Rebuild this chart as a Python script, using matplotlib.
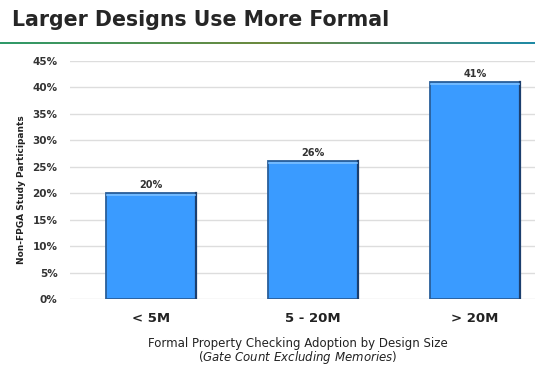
import numpy as np
import matplotlib
matplotlib.use("Agg")
import matplotlib.pyplot as plt
from matplotlib.colors import LinearSegmentedColormap
from matplotlib.ticker import MultipleLocator, FuncFormatter

categories = ["< 5M", "5 - 20M", "> 20M"]
adoption = [20, 26, 41]
bar_labels = ["20%", "26%", "41%"]

title = "Larger Designs Use More Formal"
ylabel = "Non-FPGA Study Participants"
xlabel1 = "Formal Property Checking Adoption by Design Size"

fig = plt.figure(figsize=(5.35, 3.73), dpi=100)
W, H = 535, 373

# title and gradient rule
fig.text(12 / W, 1 - 20 / H, title, fontsize=14.8, fontweight="heavy",
         color="#262626", va="center", ha="left", family="DejaVu Sans")
line_ax = fig.add_axes([0, 1 - 44 / H, 1, 2.5 / H])
cmap = LinearSegmentedColormap.from_list("rule", ["#2f9a6a", "#6e8a3e", "#1f8aa6"])
line_ax.imshow(np.linspace(0, 1, 256)[None, :], aspect="auto", cmap=cmap)
line_ax.axis("off")

# main axes: x from 70 to 535 px, y from 299 (0%) to 61 (45%)
ax = fig.add_axes([70 / W, 1 - 299 / H, (535 - 70) / W, (299 - 61) / H])
x = np.arange(len(categories))
bars = ax.bar(x, adoption, width=0.56, color="#3a9bff", edgecolor="#2a5f9a",
              linewidth=1.3, zorder=3)
# darker right side for a bevel look
for b in bars:
    ax.plot([b.get_x() + b.get_width(), b.get_x() + b.get_width()],
            [0, b.get_height()], color="#1c3f6e", lw=1.6, zorder=4)
    ax.plot([b.get_x() + 0.01, b.get_x() + b.get_width() - 0.01],
            [b.get_height() - 0.35] * 2, color="#7cc0ff", lw=1.2, zorder=4)

for xi, v, lab in zip(x, adoption, bar_labels):
    ax.text(xi, v + 0.6, lab, ha="center", va="bottom", fontsize=7,
            fontweight="bold", color="#333333")

ax.set_xlim(-0.5, 2.37)
ax.set_ylim(0, 45)
ax.yaxis.set_major_locator(MultipleLocator(5))
ax.yaxis.set_major_formatter(FuncFormatter(lambda v, p: f"{v:.0f}%"))
ax.grid(axis="y", color="#dddddd", lw=1, zorder=0)
for s in ax.spines.values():
    s.set_visible(False)
ax.tick_params(axis="y", length=0, labelsize=7.5, labelcolor="#333333", pad=9)
ax.tick_params(axis="x", length=0, labelsize=9.5, labelcolor="#222222", pad=9)
for t in ax.get_yticklabels():
    t.set_fontweight("bold")
ax.set_xticks(x)
ax.set_xticklabels(categories, fontweight="bold")
ax.set_ylabel(ylabel, fontsize=6.5, fontweight="bold", color="#222222")
ax.yaxis.set_label_coords(-0.095, 0.46)

cx = (70 + 535) / 2 / W
fig.text(cx - 5 / W, 1 - 343 / H, xlabel1, ha="center", va="center", fontsize=8.5,
         color="#222222")
fig.text(cx - 5 / W, 1 - 357 / H, r"($\it{Gate\ Count\ Excluding\ Memories}$)",
         ha="center", va="center", fontsize=8.5, color="#222222")

fig.savefig("out.png", dpi=100)
